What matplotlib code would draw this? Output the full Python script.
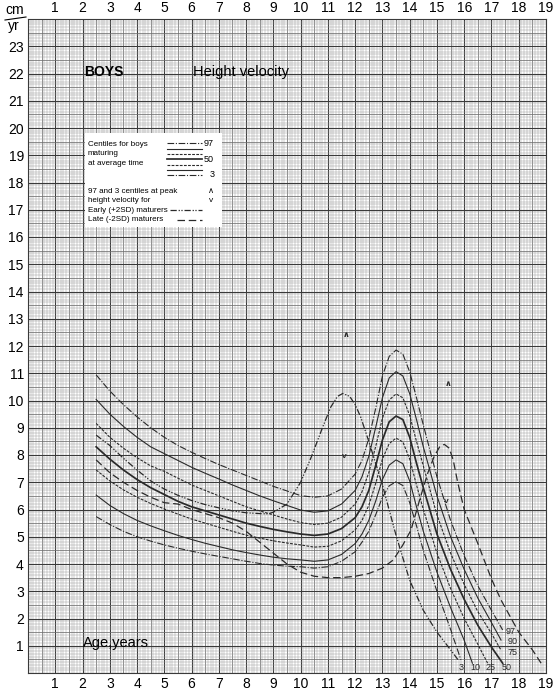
import numpy as np
import matplotlib
matplotlib.use("Agg")
import matplotlib.pyplot as plt
from matplotlib.patches import Rectangle

plt.rcParams['font.family'] = ['Liberation Sans', 'DejaVu Sans']

# ages used for the average-maturer centile curves
ages = [2.5, 3, 3.5, 4, 4.5, 5, 5.5, 6, 6.5, 7, 7.5, 8, 8.5, 9, 9.5, 10,
        10.5, 11, 11.5, 12, 12.25, 12.5, 12.75, 13, 13.25, 13.5,
        13.75, 14, 14.25, 14.5, 15, 15.5, 16, 16.5, 17]

c97 = [10.94, 10.35, 9.85, 9.4, 9.0, 8.65, 8.35, 8.1, 7.87, 7.65, 7.45, 7.25, 7.05, 6.85, 6.68, 6.51,
       6.45, 6.5, 6.75, 7.3, 7.8, 8.6, 9.7, 10.9, 11.62, 11.85,
       11.7, 11.05, 10.1, 9.1, 7.2, 5.6, 4.3, 3.2, 2.3]
c90 = [10.04, 9.5, 9.05, 8.65, 8.3, 8.05, 7.8, 7.55, 7.33, 7.12, 6.9, 6.7, 6.5, 6.32, 6.15, 5.98,
       5.9, 5.95, 6.2, 6.7, 7.2, 7.95, 9.0, 10.1, 10.83, 11.06,
       10.9, 10.25, 9.3, 8.3, 6.5, 5.0, 3.8, 2.75, 1.85]
c75 = [9.16, 8.65, 8.25, 7.9, 7.6, 7.4, 7.15, 6.9, 6.7, 6.5, 6.3, 6.1, 5.95, 5.8, 5.65, 5.52,
       5.45, 5.5, 5.72, 6.2, 6.65, 7.35, 8.3, 9.35, 10.02, 10.24,
       10.1, 9.45, 8.5, 7.6, 5.8, 4.4, 3.25, 2.25, 1.45]
c50 = [8.30, 7.85, 7.45, 7.1, 6.8, 6.55, 6.3, 6.1, 5.95, 5.8, 5.65, 5.5, 5.38, 5.27, 5.18, 5.10,
       5.05, 5.1, 5.3, 5.7, 6.1, 6.7, 7.6, 8.55, 9.22, 9.43,
       9.3, 8.65, 7.7, 6.8, 5.1, 3.8, 2.7, 1.75, 0.95]
c25 = [7.45, 7.05, 6.72, 6.45, 6.22, 6.02, 5.83, 5.65, 5.5, 5.35, 5.2, 5.06, 4.95, 4.85, 4.77, 4.70,
       4.62, 4.65, 4.85, 5.25, 5.6, 6.15, 6.95, 7.85, 8.42, 8.62,
       8.48, 7.85, 6.9, 6.0, 4.4, 3.1, 2.0, 1.05]
c10 = [6.53, 6.15, 5.85, 5.6, 5.4, 5.22, 5.05, 4.9, 4.76, 4.64, 4.52, 4.42, 4.33, 4.25, 4.19, 4.15,
       4.1, 4.15, 4.35, 4.75, 5.1, 5.6, 6.3, 7.1, 7.63, 7.82,
       7.68, 7.05, 6.1, 5.2, 3.7, 2.4, 1.2]
c3 = [5.74, 5.45, 5.2, 5.0, 4.84, 4.7, 4.58, 4.47, 4.37, 4.28, 4.19, 4.1, 4.02, 3.96, 3.92, 3.9,
      3.85, 3.9, 4.1, 4.45, 4.8, 5.2, 5.8, 6.45, 6.87, 7.02,
      6.88, 6.25, 5.4, 4.5, 3.0, 1.6]

# last point of each centile curve
end_age = {'97': 17.41, '90': 17.35, '75': 17.35, '50': 17.41, '25': 16.86, '10': 16.3, '3': 15.88}
end_val = {'97': 1.58, '90': 1.21, '75': 0.84, '50': 0.36, '25': 0.36, '10': 0.36, '3': 0.48}

# early (+2SD) and late (-2SD) maturers
early_age = [2.5, 3, 3.5, 4, 4.5, 5, 5.5, 6, 6.5, 7, 7.5, 8, 8.5, 8.8, 9.0, 9.5, 10,
             10.4, 10.8, 11.1, 11.35, 11.55, 11.8, 12.0, 12.2, 12.5, 13.0, 13.5, 14.0, 14.5, 15.0, 15.5, 15.8]
early_val = [8.73, 8.35, 7.88, 7.45, 7.05, 6.75, 6.52, 6.33, 6.18, 6.06, 5.95, 5.88, 5.85, 5.84, 5.9, 6.2, 7.0,
             7.95, 9.0, 9.75, 10.15, 10.26, 10.15, 9.85, 9.4, 8.5, 6.9, 5.05, 3.4, 2.3, 1.5, 0.85, 0.45]
late_age = [2.5, 3, 3.5, 4, 4.5, 5, 5.5, 6, 6.5, 7, 7.5, 8, 8.5, 9, 9.5, 10, 10.5, 11, 11.5, 12,
            12.5, 13, 13.4, 13.75, 14.05, 14.35, 14.66, 14.9, 15.1, 15.27, 15.45, 15.6, 15.76, 16.0, 16.5,
            17.0, 17.35, 18.0, 18.5, 18.82]
late_val = [7.82, 7.35, 7.0, 6.7, 6.45, 6.25, 6.2, 6.0, 5.85, 5.7, 5.5, 5.2, 4.8, 4.4, 4.0, 3.7, 3.55, 3.5, 3.5, 3.55,
            3.65, 3.85, 4.15, 4.7, 5.25, 6.3, 7.33, 7.95, 8.3, 8.39, 8.25, 7.8, 7.0, 6.0, 4.75,
            3.45, 2.68, 1.5, 0.85, 0.36]

# 97th and 3rd centile markers at peak
peak_x = [11.67, 11.6, 15.4, 15.33]
peak_y = [12.4, 7.94, 10.57, 6.29]
peak_m = ['^', 'v', '^', 'v']

ink = '#2a2a2a'
styles = {
    '97': dict(lw=0.8, dashes=(6, 1.5, 1, 1.5)),
    '90': dict(lw=0.8, dashes=()),
    '75': dict(lw=0.8, dashes=(2.5, 1.2)),
    '50': dict(lw=1.25, dashes=()),
    '25': dict(lw=0.8, dashes=(2.5, 1.2)),
    '10': dict(lw=0.8, dashes=()),
    '3': dict(lw=0.8, dashes=(6, 1.5, 1, 1.5)),
}
curves = {'97': c97, '90': c90, '75': c75, '50': c50, '25': c25, '10': c10, '3': c3}

fig = plt.figure(figsize=(5.59, 6.94), dpi=100)
ax = fig.add_axes([28 / 559, 21 / 694, 518 / 559, 654 / 694])
ax.set_xlim(0, 19)
ax.set_ylim(0, 24)

# graph paper
for v in np.arange(0, 19.01, 0.1):
    k = round(v * 10)
    if k % 10 == 0:
        ax.axvline(v, color='#3a3a3a', lw=0.8, zorder=0)
    elif k % 5 == 0:
        ax.axvline(v, color='#707070', lw=0.55, zorder=0)
    else:
        ax.axvline(v, color='#a0a0a0', lw=0.35, zorder=0)
for v in np.arange(0, 24.01, 0.1):
    k = round(v * 10)
    if k % 10 == 0:
        ax.axhline(v, color='#3a3a3a', lw=0.8, zorder=0)
    elif k % 5 == 0:
        ax.axhline(v, color='#707070', lw=0.55, zorder=0)
    else:
        ax.axhline(v, color='#a0a0a0', lw=0.35, zorder=0)

# centile curves
for name, vals in curves.items():
    xs = ages[:len(vals)] + [end_age[name]]
    ys = vals + [end_val[name]]
    st = styles[name]
    ln, = ax.plot(xs, ys, color=ink, lw=st['lw'], zorder=3)
    if st['dashes']:
        ln.set_dashes(st['dashes'])

ln, = ax.plot(early_age, early_val, color=ink, lw=0.9, zorder=3)
ln.set_dashes((5, 1.5, 1, 1.2, 1, 1.5))
ln, = ax.plot(late_age, late_val, color=ink, lw=0.9, zorder=3)
ln.set_dashes((6, 3))

for px, py, m in zip(peak_x, peak_y, peak_m):
    ax.text(px, py, '\u2227' if m == '^' else 'v', ha='center', va='center', fontsize=6,
            fontweight='bold', color=ink, zorder=4)

# end labels
lab_x = [17.72, 17.79, 17.79, 17.57, 16.95, 16.4, 15.88]
lab_y = [1.54, 1.17, 0.77, 0.22, 0.22, 0.22, 0.22]
for t, lx, ly in zip(['97', '90', '75', '50', '25', '10', '3'], lab_x, lab_y):
    ax.text(lx, ly, t, fontsize=6.5, ha='center', va='center', color=ink, zorder=4)

# titles
ax.text(2.05, 22.05, 'BOYS', fontsize=10, fontweight='bold', ha='left', va='center')
ax.text(6.05, 22.05, 'Height velocity', fontsize=10.5, ha='left', va='center')
ax.text(2.0, 1.1, 'Age,years', fontsize=10.5, ha='left', va='center')

# legend box
ax.add_patch(Rectangle((2.09, 16.37), 5.03, 3.45, facecolor='white', edgecolor='none', zorder=5))
fs = 5.8
ax.text(2.2, 19.41, 'Centiles for boys', fontsize=fs, va='center', zorder=6)
ax.text(2.2, 19.06, 'maturing', fontsize=fs, va='center', zorder=6)
ax.text(2.2, 18.69, 'at average time', fontsize=fs, va='center', zorder=6)
ly = [19.44, 19.22, 19.03, 18.85, 18.64, 18.46, 18.28]
for name, yy in zip(['97', '90', '75', '50', '25', '10', '3'], ly):
    st = styles[name]
    ln, = ax.plot([5.09, 6.37], [yy, yy], color=ink, lw=st['lw'], zorder=6)
    if st['dashes']:
        ln.set_dashes(st['dashes'])
ax.text(6.45, 19.44, '97', fontsize=6.5, va='center', zorder=6)
ax.text(6.45, 18.85, '50', fontsize=6.5, va='center', zorder=6)
ax.text(6.85, 18.28, '3', fontsize=6.5, va='center', ha='right', zorder=6)
ax.text(2.2, 17.66, '97 and 3 centiles at peak', fontsize=fs, va='center', zorder=6)
ax.text(2.2, 17.33, 'height velocity for', fontsize=fs, va='center', zorder=6)
ax.text(2.2, 16.98, 'Early (+2SD) maturers', fontsize=fs, va='center', zorder=6)
ax.text(2.2, 16.64, 'Late (-2SD) maturers', fontsize=fs, va='center', zorder=6)
ax.text(6.73, 17.68, '\u2227', fontsize=6, va='center', ha='center', zorder=6)
ax.text(6.73, 17.33, 'v', fontsize=6, va='center', ha='center', zorder=6)
ln, = ax.plot([5.21, 6.37], [16.98, 16.98], color=ink, lw=0.9, zorder=6)
ln.set_dashes((5, 1.5, 1, 1.2, 1, 1.5))
ln, = ax.plot([5.45, 6.37], [16.64, 16.64], color=ink, lw=0.9, zorder=6)
ln.set_dashes((6, 3))

# ticks and labels
ax.set_xticks(range(1, 20))
ax.set_yticks(range(1, 24))
ax.tick_params(axis='x', top=True, labeltop=True, bottom=True, labelbottom=True,
               length=0, pad=3, labelsize=10)
ax.tick_params(axis='y', length=0, pad=3, labelsize=10)
for s in ax.spines.values():
    s.set_color('#3a3a3a')
    s.set_linewidth(0.8)

# cm / yr unit
fig.text(15 / 559, 1 - 10 / 694, 'cm', fontsize=10, ha='center', va='center')
fig.text(14 / 559, 1 - 26 / 694, 'yr', fontsize=10, ha='center', va='center')
fig.add_artist(plt.Line2D([5 / 559, 26 / 559], [1 - 20 / 694, 1 - 17 / 694], color='black', lw=0.8))

fig.savefig('out.png', dpi=100)
